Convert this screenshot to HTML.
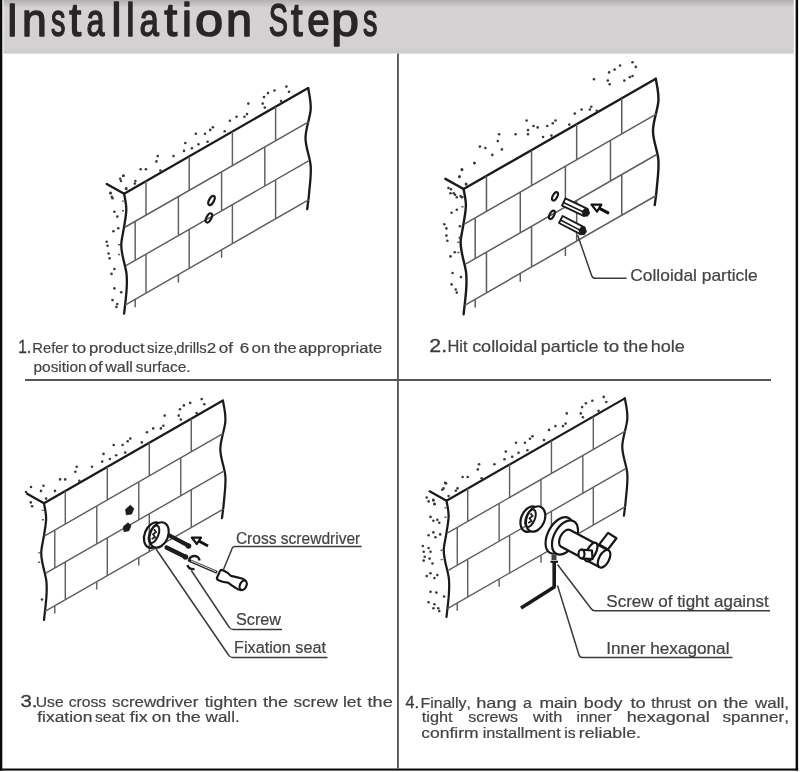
<!DOCTYPE html>
<html><head><meta charset="utf-8"><style>
html,body{margin:0;padding:0;background:#fff;}
body{width:800px;height:772px;overflow:hidden;}
svg{display:block;will-change:transform;}
text{font-family:"Liberation Sans",sans-serif;fill:#434343;font-kerning:none;}
.title{fill:#2a2526;stroke:#2a2526;stroke-width:1.5;stroke-linejoin:round;}
.num{fill:#3a3a3a;}
.cap{stroke:#434343;stroke-width:0.2;}
.num{stroke:#3a3a3a;stroke-width:0.3;}
.edge{fill:none;stroke:#1a1a1a;stroke-width:2.3;stroke-linejoin:round;stroke-linecap:round;}
.mort{fill:none;stroke:#5e5e5e;stroke-width:1.45;}
.dots{fill:#3a3a3a;}
.hole{fill:none;stroke:#1a1a1a;stroke-width:2.2;}
.ol{fill:#fff;stroke:#1a1a1a;stroke-width:1.8;stroke-linejoin:round;}
.ol2{fill:none;stroke:#1a1a1a;stroke-width:1.6;}
.ol3{fill:none;stroke:#161616;stroke-width:2.2;}
.ol3w{fill:#fff;stroke:#161616;stroke-width:2.2;stroke-linejoin:round;}
.lead{fill:none;stroke:#3a3a3a;stroke-width:1.5;}
</style></head><body>
<svg width="800" height="772" viewBox="0 0 800 772">
<defs><linearGradient id="hg" x1="0" y1="0" x2="0" y2="1"><stop offset="0" stop-color="#b3b0b2"/><stop offset="0.12" stop-color="#cdcacc"/><stop offset="0.135" stop-color="#d6d2d4"/><stop offset="0.88" stop-color="#d4d1d3"/><stop offset="1" stop-color="#cdcacc"/></linearGradient></defs>
<rect x="3.5" y="0" width="790.3" height="53.6" fill="url(#hg)"/>
<text class="title" transform="translate(6.49,35.5) scale(0.899,1)" x="0" y="0" font-size="46.5">I</text>
<text class="title" transform="translate(22.10,35.5) scale(0.957,1)" x="0" y="0" font-size="46.5">n</text>
<text class="title" transform="translate(51.06,35.5) scale(0.620,1)" x="0" y="0" font-size="46.5">s</text>
<text class="title" transform="translate(69.30,35.5) scale(0.926,1)" x="0" y="0" font-size="46.5">t</text>
<text class="title" transform="translate(86.48,35.5) scale(0.695,1)" x="0" y="0" font-size="46.5">a</text>
<text class="title" transform="translate(111.56,35.5) scale(0.954,1)" x="0" y="0" font-size="46.5">l</text>
<text class="title" transform="translate(126.32,35.5) scale(0.807,1)" x="0" y="0" font-size="46.5">l</text>
<text class="title" transform="translate(139.57,35.5) scale(0.749,1)" x="0" y="0" font-size="46.5">a</text>
<text class="title" transform="translate(164.34,35.5) scale(1.002,1)" x="0" y="0" font-size="46.5">t</text>
<text class="title" transform="translate(182.08,35.5) scale(0.954,1)" x="0" y="0" font-size="46.5">i</text>
<text class="title" transform="translate(194.92,35.5) scale(1.089,1)" x="0" y="0" font-size="46.5">o</text>
<text class="title" transform="translate(225.94,35.5) scale(1.007,1)" x="0" y="0" font-size="46.5">n</text>
<text class="title" transform="translate(268.74,35.5) scale(0.620,1)" x="0" y="0" font-size="46.5">S</text>
<text class="title" transform="translate(291.12,35.5) scale(0.901,1)" x="0" y="0" font-size="46.5">t</text>
<text class="title" transform="translate(307.34,35.5) scale(0.866,1)" x="0" y="0" font-size="46.5">e</text>
<text class="title" transform="translate(331.34,35.5) scale(1.071,1)" x="0" y="0" font-size="46.5">p</text>
<text class="title" transform="translate(363.11,35.5) scale(0.620,1)" x="0" y="0" font-size="46.5">s</text>
<rect x="0" y="0" width="2.3" height="770.6" fill="#0c0c0c"/>
<rect x="795.6" y="0" width="2.5" height="770.6" fill="#0c0c0c"/>
<rect x="0" y="768.5" width="798.1" height="2.1" fill="#0c0c0c"/>
<rect x="397" y="53.6" width="1.9" height="715" fill="#5a5a5a"/>
<rect x="25" y="379" width="746" height="2" fill="#555"/>
<g transform="translate(124.1,193.7) scale(1.000)"><path class="edge" d="M-17.4,-9.7 L0,0 L184.1,-105.6"/>
<path class="edge" d="M0.00,0.00 C0.37,2.58 2.20,10.00 2.20,15.50 C2.20,21.00 0.83,27.25 0.00,33.00 C-0.83,38.75 -2.55,45.17 -2.80,50.00 C-3.05,54.83 -2.37,57.00 -1.50,62.00 C-0.63,67.00 1.73,74.33 2.40,80.00 C3.07,85.67 2.90,89.33 2.50,96.00 C2.10,102.67 0.42,116.00 0.00,120.00"/>
<path class="edge" d="M184.10,-105.60 C184.52,-102.10 187.05,-92.93 186.60,-84.60 C186.15,-76.27 181.40,-65.10 181.40,-55.60 C181.40,-46.10 185.98,-36.60 186.60,-27.60 C187.22,-18.60 185.68,-8.77 185.10,-1.60 C184.52,5.57 183.43,12.57 183.10,15.40"/>
<path class="mort" d="M0.3,33.8 L184.5,-71.8 M1.8,72.0 L184.5,-32.8 M1.0,111.4 L184.5,6.2 M21.9,-12.6 L21.9,21.4 M21.9,60.4 L21.9,99.4 M65.1,-37.3 L65.1,-3.3 M65.1,35.7 L65.1,74.7 M108.3,-62.1 L108.3,-28.1 M108.3,10.9 L108.3,49.9 M151.5,-86.9 L151.5,-52.9 M151.5,-13.9 L151.5,25.1 M11.1,27.6 L11.1,66.6 M54.3,2.9 L54.3,41.9 M97.5,-21.9 L97.5,17.1 M140.7,-46.7 L140.7,-7.7 M11.1,105.6 L11.1,113.6 M54.3,80.9 L54.3,88.9 M97.5,56.1 L97.5,64.1"/>
<path class="mort" d="M0.0,7.4 h-2.2 M0.0,17.1 h-2.2 M-3.9,51.1 h-2.2 M-3.9,60.8 h-2.2"/></g>
<g transform="translate(463.6,189.0) scale(1.044)"><path class="edge" d="M-17.4,-9.7 L0,0 L184.1,-105.6"/>
<path class="edge" d="M0.00,0.00 C0.37,2.58 2.20,10.00 2.20,15.50 C2.20,21.00 0.83,27.25 0.00,33.00 C-0.83,38.75 -2.55,45.17 -2.80,50.00 C-3.05,54.83 -2.37,57.00 -1.50,62.00 C-0.63,67.00 1.73,74.33 2.40,80.00 C3.07,85.67 2.90,89.33 2.50,96.00 C2.10,102.67 0.42,116.00 0.00,120.00"/>
<path class="edge" d="M184.10,-105.60 C184.52,-102.10 187.05,-92.93 186.60,-84.60 C186.15,-76.27 181.40,-65.10 181.40,-55.60 C181.40,-46.10 185.98,-36.60 186.60,-27.60 C187.22,-18.60 185.68,-8.77 185.10,-1.60 C184.52,5.57 183.43,12.57 183.10,15.40"/>
<path class="mort" d="M0.3,33.8 L184.5,-71.8 M1.8,72.0 L184.5,-32.8 M1.0,111.4 L184.5,6.2 M21.9,-12.6 L21.9,21.4 M21.9,60.4 L21.9,99.4 M65.1,-37.3 L65.1,-3.3 M65.1,35.7 L65.1,74.7 M108.3,-62.1 L108.3,-28.1 M108.3,10.9 L108.3,49.9 M151.5,-86.9 L151.5,-52.9 M151.5,-13.9 L151.5,25.1 M11.1,27.6 L11.1,66.6 M54.3,2.9 L54.3,41.9 M97.5,-21.9 L97.5,17.1 M140.7,-46.7 L140.7,-7.7 M11.1,105.6 L11.1,113.6 M54.3,80.9 L54.3,88.9 M97.5,56.1 L97.5,64.1"/>
<path class="mort" d="M0.0,7.4 h-2.2 M0.0,17.1 h-2.2 M-3.9,51.1 h-2.2 M-3.9,60.8 h-2.2"/></g>
<g transform="translate(44.0,503.2) scale(0.972)"><path class="edge" d="M-17.4,-9.7 L0,0 L184.1,-105.6"/>
<path class="edge" d="M0.00,0.00 C0.37,2.58 2.20,10.00 2.20,15.50 C2.20,21.00 0.83,27.25 0.00,33.00 C-0.83,38.75 -2.55,45.17 -2.80,50.00 C-3.05,54.83 -2.37,57.00 -1.50,62.00 C-0.63,67.00 1.73,74.33 2.40,80.00 C3.07,85.67 2.90,89.33 2.50,96.00 C2.10,102.67 0.42,116.00 0.00,120.00"/>
<path class="edge" d="M184.10,-105.60 C184.52,-102.10 187.05,-92.93 186.60,-84.60 C186.15,-76.27 181.40,-65.10 181.40,-55.60 C181.40,-46.10 185.98,-36.60 186.60,-27.60 C187.22,-18.60 185.68,-8.77 185.10,-1.60 C184.52,5.57 183.43,12.57 183.10,15.40"/>
<path class="mort" d="M0.3,33.8 L184.5,-71.8 M1.8,72.0 L184.5,-32.8 M1.0,111.4 L184.5,6.2 M21.9,-12.6 L21.9,21.4 M21.9,60.4 L21.9,99.4 M65.1,-37.3 L65.1,-3.3 M65.1,35.7 L65.1,74.7 M108.3,-62.1 L108.3,-28.1 M108.3,10.9 L108.3,49.9 M151.5,-86.9 L151.5,-52.9 M151.5,-13.9 L151.5,25.1 M11.1,27.6 L11.1,66.6 M54.3,2.9 L54.3,41.9 M97.5,-21.9 L97.5,17.1 M140.7,-46.7 L140.7,-7.7 M11.1,105.6 L11.1,113.6 M54.3,80.9 L54.3,88.9 M97.5,56.1 L97.5,64.1"/>
<path class="mort" d="M0.0,7.4 h-2.2 M0.0,17.1 h-2.2 M-3.9,51.1 h-2.2 M-3.9,60.8 h-2.2"/></g>
<g transform="translate(446.5,500.7) scale(0.969)"><path class="edge" d="M-17.4,-9.7 L0,0 L184.1,-105.6"/>
<path class="edge" d="M0.00,0.00 C0.37,2.58 2.20,10.00 2.20,15.50 C2.20,21.00 0.83,27.25 0.00,33.00 C-0.83,38.75 -2.55,45.17 -2.80,50.00 C-3.05,54.83 -2.37,57.00 -1.50,62.00 C-0.63,67.00 1.73,74.33 2.40,80.00 C3.07,85.67 2.90,89.33 2.50,96.00 C2.10,102.67 0.42,116.00 0.00,120.00"/>
<path class="edge" d="M184.10,-105.60 C184.52,-102.10 187.05,-92.93 186.60,-84.60 C186.15,-76.27 181.40,-65.10 181.40,-55.60 C181.40,-46.10 185.98,-36.60 186.60,-27.60 C187.22,-18.60 185.68,-8.77 185.10,-1.60 C184.52,5.57 183.43,12.57 183.10,15.40"/>
<path class="mort" d="M0.3,33.8 L184.5,-71.8 M1.8,72.0 L184.5,-32.8 M1.0,111.4 L184.5,6.2 M21.9,-12.6 L21.9,21.4 M21.9,60.4 L21.9,99.4 M65.1,-37.3 L65.1,-3.3 M65.1,35.7 L65.1,74.7 M108.3,-62.1 L108.3,-28.1 M108.3,10.9 L108.3,49.9 M151.5,-86.9 L151.5,-52.9 M151.5,-13.9 L151.5,25.1 M11.1,27.6 L11.1,66.6 M54.3,2.9 L54.3,41.9 M97.5,-21.9 L97.5,17.1 M140.7,-46.7 L140.7,-7.7 M11.1,105.6 L11.1,113.6 M54.3,80.9 L54.3,88.9 M97.5,56.1 L97.5,64.1"/>
<path class="mort" d="M0.0,7.4 h-2.2 M0.0,17.1 h-2.2 M-3.9,51.1 h-2.2 M-3.9,60.8 h-2.2"/></g>
<g class="dots"><circle cx="286.4" cy="86.6" r="1.3"/><circle cx="289.0" cy="91.8" r="1.3"/><circle cx="274.5" cy="90.5" r="1.3"/><circle cx="268.0" cy="93.1" r="1.3"/><circle cx="264.0" cy="97.1" r="1.3"/><circle cx="262.7" cy="103.6" r="1.3"/><circle cx="264.8" cy="107.6" r="1.3"/><circle cx="281.1" cy="101.0" r="1.3"/><circle cx="248.3" cy="103.6" r="1.3"/><circle cx="247.0" cy="114.1" r="1.3"/><circle cx="244.4" cy="116.7" r="1.3"/><circle cx="236.5" cy="116.7" r="1.3"/><circle cx="229.9" cy="120.7" r="1.3"/><circle cx="224.7" cy="131.2" r="1.3"/><circle cx="212.9" cy="127.2" r="1.3"/><circle cx="210.2" cy="129.9" r="1.3"/><circle cx="205.0" cy="133.8" r="1.3"/><circle cx="207.6" cy="141.7" r="1.3"/><circle cx="198.4" cy="144.3" r="1.3"/><circle cx="195.8" cy="133.8" r="1.3"/><circle cx="191.9" cy="148.2" r="1.3"/><circle cx="185.3" cy="143.0" r="1.3"/><circle cx="184.0" cy="150.9" r="1.3"/><circle cx="173.5" cy="156.1" r="1.3"/><circle cx="160.4" cy="170.6" r="1.3"/><circle cx="156.4" cy="161.4" r="1.3"/><circle cx="157.7" cy="156.1" r="1.3"/><circle cx="145.9" cy="169.2" r="1.3"/><circle cx="140.7" cy="169.2" r="1.3"/><circle cx="135.4" cy="181.0" r="1.3"/><circle cx="123.6" cy="175.8" r="1.3"/><circle cx="121.0" cy="181.0" r="1.3"/><circle cx="126.2" cy="188.9" r="1.3"/><circle cx="110.5" cy="192.9" r="1.3"/><circle cx="111.8" cy="196.8" r="1.3"/><circle cx="120.2" cy="178.7" r="1.3"/><circle cx="123.2" cy="175.8" r="1.3"/><circle cx="134.8" cy="183.6" r="1.3"/><circle cx="126.1" cy="188.4" r="1.3"/><circle cx="110.5" cy="193.3" r="1.3"/><circle cx="112.5" cy="198.2" r="1.3"/><circle cx="114.4" cy="211.7" r="1.3"/><circle cx="117.3" cy="216.6" r="1.3"/><circle cx="113.4" cy="231.2" r="1.3"/><circle cx="118.3" cy="228.3" r="1.3"/><circle cx="106.7" cy="241.8" r="1.3"/><circle cx="107.6" cy="245.7" r="1.3"/><circle cx="108.6" cy="253.5" r="1.3"/><circle cx="109.6" cy="258.3" r="1.3"/><circle cx="114.4" cy="269.0" r="1.3"/><circle cx="111.5" cy="273.9" r="1.3"/><circle cx="114.4" cy="288.4" r="1.3"/><circle cx="121.2" cy="292.3" r="1.3"/><circle cx="112.5" cy="300.1" r="1.3"/><circle cx="117.3" cy="304.0" r="1.3"/><circle cx="116.4" cy="306.9" r="1.3"/></g>
<g class="dots"><circle cx="632.5" cy="62.2" r="1.3"/><circle cx="635.8" cy="66.9" r="1.3"/><circle cx="620.1" cy="65.5" r="1.3"/><circle cx="614.6" cy="69.6" r="1.3"/><circle cx="609.1" cy="72.4" r="1.3"/><circle cx="607.8" cy="80.6" r="1.3"/><circle cx="609.7" cy="84.2" r="1.3"/><circle cx="624.3" cy="80.6" r="1.3"/><circle cx="629.8" cy="77.1" r="1.3"/><circle cx="632.5" cy="76.0" r="1.3"/><circle cx="594.0" cy="79.3" r="1.3"/><circle cx="591.3" cy="106.8" r="1.3"/><circle cx="589.9" cy="109.5" r="1.3"/><circle cx="596.8" cy="110.9" r="1.3"/><circle cx="581.6" cy="109.5" r="1.3"/><circle cx="574.8" cy="113.6" r="1.3"/><circle cx="569.3" cy="124.6" r="1.3"/><circle cx="555.5" cy="120.5" r="1.3"/><circle cx="552.8" cy="123.3" r="1.3"/><circle cx="547.3" cy="126.0" r="1.3"/><circle cx="551.4" cy="135.6" r="1.3"/><circle cx="543.1" cy="137.0" r="1.3"/><circle cx="537.6" cy="127.4" r="1.3"/><circle cx="533.5" cy="126.0" r="1.3"/><circle cx="528.0" cy="130.1" r="1.3"/><circle cx="526.6" cy="120.5" r="1.3"/><circle cx="528.0" cy="134.3" r="1.3"/><circle cx="515.6" cy="134.3" r="1.3"/><circle cx="499.1" cy="134.3" r="1.3"/><circle cx="497.8" cy="141.1" r="1.3"/><circle cx="501.9" cy="149.4" r="1.3"/><circle cx="492.3" cy="154.9" r="1.3"/><circle cx="485.4" cy="148.0" r="1.3"/><circle cx="479.9" cy="146.6" r="1.3"/><circle cx="474.4" cy="163.1" r="1.3"/><circle cx="462.0" cy="170.0" r="1.3"/><circle cx="459.3" cy="176.9" r="1.3"/><circle cx="466.1" cy="183.8" r="1.3"/><circle cx="451.0" cy="189.3" r="1.3"/><circle cx="455.1" cy="194.8" r="1.3"/><circle cx="460.6" cy="196.1" r="1.3"/><circle cx="474.4" cy="163.1" r="1.3"/><circle cx="461.9" cy="169.3" r="1.3"/><circle cx="459.5" cy="176.6" r="1.3"/><circle cx="466.1" cy="184.5" r="1.3"/><circle cx="448.5" cy="188.0" r="1.3"/><circle cx="450.5" cy="193.2" r="1.3"/><circle cx="453.7" cy="193.2" r="1.3"/><circle cx="456.8" cy="197.3" r="1.3"/><circle cx="461.9" cy="197.3" r="1.3"/><circle cx="451.6" cy="212.8" r="1.3"/><circle cx="456.8" cy="209.7" r="1.3"/><circle cx="444.3" cy="224.2" r="1.3"/><circle cx="446.4" cy="228.4" r="1.3"/><circle cx="459.9" cy="226.3" r="1.3"/><circle cx="446.4" cy="235.6" r="1.3"/><circle cx="447.4" cy="240.8" r="1.3"/><circle cx="459.9" cy="237.7" r="1.3"/><circle cx="450.5" cy="256.4" r="1.3"/><circle cx="454.7" cy="252.2" r="1.3"/><circle cx="452.6" cy="273.0" r="1.3"/><circle cx="460.9" cy="277.1" r="1.3"/><circle cx="451.6" cy="284.4" r="1.3"/><circle cx="455.7" cy="289.5" r="1.3"/><circle cx="456.8" cy="292.6" r="1.3"/></g>
<g class="dots"><circle cx="201.7" cy="399.1" r="1.3"/><circle cx="204.3" cy="404.2" r="1.3"/><circle cx="190.2" cy="402.9" r="1.3"/><circle cx="183.9" cy="405.4" r="1.3"/><circle cx="180.0" cy="409.3" r="1.3"/><circle cx="178.7" cy="415.6" r="1.3"/><circle cx="180.8" cy="419.5" r="1.3"/><circle cx="196.6" cy="413.1" r="1.3"/><circle cx="164.7" cy="415.6" r="1.3"/><circle cx="163.4" cy="425.8" r="1.3"/><circle cx="160.9" cy="428.4" r="1.3"/><circle cx="153.2" cy="428.4" r="1.3"/><circle cx="146.9" cy="432.2" r="1.3"/><circle cx="141.8" cy="442.4" r="1.3"/><circle cx="130.3" cy="438.6" r="1.3"/><circle cx="127.7" cy="441.2" r="1.3"/><circle cx="122.6" cy="445.0" r="1.3"/><circle cx="125.2" cy="452.6" r="1.3"/><circle cx="116.2" cy="455.2" r="1.3"/><circle cx="113.7" cy="445.0" r="1.3"/><circle cx="109.9" cy="459.0" r="1.3"/><circle cx="103.5" cy="453.9" r="1.3"/><circle cx="102.2" cy="461.6" r="1.3"/><circle cx="92.0" cy="466.7" r="1.3"/><circle cx="79.3" cy="480.7" r="1.3"/><circle cx="75.4" cy="471.8" r="1.3"/><circle cx="76.7" cy="466.7" r="1.3"/><circle cx="65.2" cy="479.4" r="1.3"/><circle cx="60.1" cy="479.4" r="1.3"/><circle cx="55.0" cy="490.9" r="1.3"/><circle cx="43.5" cy="485.8" r="1.3"/><circle cx="41.0" cy="490.9" r="1.3"/><circle cx="46.1" cy="498.6" r="1.3"/><circle cx="30.8" cy="502.4" r="1.3"/><circle cx="32.1" cy="506.2" r="1.3"/><circle cx="42.0" cy="599.5" r="1.3"/><circle cx="26.0" cy="492.0" r="1.3"/><circle cx="31.0" cy="487.0" r="1.3"/></g>
<g class="dots"><circle cx="603.7" cy="396.9" r="1.3"/><circle cx="606.3" cy="402.0" r="1.3"/><circle cx="592.3" cy="400.7" r="1.3"/><circle cx="585.9" cy="403.2" r="1.3"/><circle cx="582.1" cy="407.1" r="1.3"/><circle cx="580.8" cy="413.4" r="1.3"/><circle cx="582.9" cy="417.2" r="1.3"/><circle cx="598.6" cy="410.9" r="1.3"/><circle cx="566.8" cy="413.4" r="1.3"/><circle cx="565.6" cy="423.6" r="1.3"/><circle cx="563.0" cy="426.1" r="1.3"/><circle cx="555.4" cy="426.1" r="1.3"/><circle cx="549.0" cy="429.9" r="1.3"/><circle cx="544.0" cy="440.1" r="1.3"/><circle cx="532.5" cy="436.3" r="1.3"/><circle cx="530.0" cy="438.8" r="1.3"/><circle cx="524.9" cy="442.7" r="1.3"/><circle cx="527.4" cy="450.3" r="1.3"/><circle cx="518.5" cy="452.8" r="1.3"/><circle cx="516.0" cy="442.7" r="1.3"/><circle cx="512.2" cy="456.7" r="1.3"/><circle cx="505.8" cy="451.6" r="1.3"/><circle cx="504.5" cy="459.2" r="1.3"/><circle cx="494.4" cy="464.3" r="1.3"/><circle cx="481.6" cy="478.3" r="1.3"/><circle cx="477.8" cy="469.4" r="1.3"/><circle cx="479.1" cy="464.3" r="1.3"/><circle cx="467.7" cy="477.0" r="1.3"/><circle cx="462.6" cy="477.0" r="1.3"/><circle cx="457.5" cy="488.4" r="1.3"/><circle cx="446.0" cy="483.4" r="1.3"/><circle cx="443.5" cy="488.4" r="1.3"/><circle cx="448.6" cy="496.1" r="1.3"/><circle cx="433.3" cy="499.9" r="1.3"/><circle cx="434.6" cy="503.7" r="1.3"/><circle cx="445.1" cy="482.9" r="1.3"/><circle cx="442.2" cy="489.7" r="1.3"/><circle cx="455.8" cy="490.7" r="1.3"/><circle cx="426.7" cy="497.5" r="1.3"/><circle cx="428.6" cy="501.4" r="1.3"/><circle cx="433.4" cy="500.4" r="1.3"/><circle cx="434.4" cy="504.3" r="1.3"/><circle cx="430.5" cy="516.9" r="1.3"/><circle cx="433.4" cy="520.8" r="1.3"/><circle cx="437.3" cy="519.8" r="1.3"/><circle cx="439.3" cy="522.7" r="1.3"/><circle cx="428.6" cy="535.3" r="1.3"/><circle cx="433.4" cy="532.4" r="1.3"/><circle cx="435.4" cy="537.3" r="1.3"/><circle cx="440.2" cy="534.4" r="1.3"/><circle cx="422.8" cy="546.0" r="1.3"/><circle cx="428.6" cy="548.0" r="1.3"/><circle cx="423.7" cy="551.8" r="1.3"/><circle cx="430.5" cy="551.8" r="1.3"/><circle cx="424.7" cy="556.7" r="1.3"/><circle cx="429.6" cy="558.6" r="1.3"/><circle cx="423.7" cy="560.6" r="1.3"/><circle cx="432.5" cy="563.5" r="1.3"/><circle cx="426.7" cy="576.1" r="1.3"/><circle cx="430.5" cy="573.2" r="1.3"/><circle cx="434.4" cy="578.1" r="1.3"/><circle cx="437.3" cy="575.1" r="1.3"/><circle cx="430.5" cy="591.7" r="1.3"/><circle cx="436.4" cy="592.6" r="1.3"/><circle cx="444.1" cy="596.5" r="1.3"/><circle cx="428.6" cy="602.3" r="1.3"/><circle cx="434.4" cy="604.3" r="1.3"/><circle cx="433.4" cy="608.2" r="1.3"/><circle cx="438.3" cy="608.2" r="1.3"/><circle cx="439.3" cy="611.1" r="1.3"/></g>
<ellipse class="hole" cx="211.5" cy="200.5" rx="5" ry="2.4" transform="rotate(-62 211.5 200.5)"/>
<ellipse class="hole" cx="208.9" cy="217.9" rx="5" ry="2.4" transform="rotate(-62 208.9 217.9)"/>
<ellipse class="hole" cx="555.0" cy="196.3" rx="4.6" ry="2.2" transform="rotate(-62 555.0 196.3)"/>
<ellipse class="hole" cx="551.9" cy="214.8" rx="4.6" ry="2.2" transform="rotate(-62 551.9 214.8)"/>
<path class="ol" d="M565.4,198.4 L587.6,208.9 L584.2,216.1 L562.0,205.6 Z"/><path class="ol2" d="M563.4,202.5 L585.6,213.0"/><path fill="#1a1a1a" d="M590.1,213.3 L587.4,216.8 L583.1,216.0 L581.7,211.7 L584.4,208.2 L588.7,209.0 Z"/>
<path class="ol" d="M562.6,216.0 L584.5,227.4 L580.9,234.4 L559.0,223.0 Z"/><path class="ol2" d="M560.5,220.0 L582.4,231.4"/><path fill="#1a1a1a" d="M586.9,231.7 L584.2,235.2 L579.9,234.4 L578.5,230.1 L581.2,226.6 L585.5,227.4 Z"/>
<path d="M609,213.4 L597.5,207.3" stroke="#111" stroke-width="3" fill="none"/>
<path d="M591.5,204.6 L601.3,204.6 L597,211.6 Z" fill="#fff" stroke="#111" stroke-width="2.2" stroke-linejoin="round"/>
<path class="lead" d="M577.6,235 L591.6,275.4 Q592.6,278.3 595.4,278.3 L626.6,278.3"/>
<text class="cap" x="630.3" y="280.9" font-size="16.2" textLength="127.5" lengthAdjust="spacingAndGlyphs">Colloidal particle</text>
<text class="num" x="18.3" y="353.4" font-size="18.8" textLength="13.0" lengthAdjust="spacingAndGlyphs">1.</text>
<text class="cap" transform="translate(32.23,353.3) scale(0.9546,1)" x="0" y="0" font-size="15.5">Refer</text><text class="cap" transform="translate(72.03,353.3) scale(1.0983,1)" x="0" y="0" font-size="15.5">to</text><text class="cap" transform="translate(89.02,353.3) scale(1.0774,1)" x="0" y="0" font-size="15.5">product</text><text class="cap" transform="translate(147.00,353.3) scale(0.9546,1)" x="0" y="0" font-size="15.5">size,</text><text class="cap" transform="translate(176.35,353.3) scale(0.9546,1)" x="0" y="0" font-size="15.5">drills</text><text class="cap" transform="translate(206.87,353.3) scale(1.0983,1)" x="0" y="0" font-size="15.5">2</text><text class="cap" transform="translate(218.68,353.3) scale(1.0983,1)" x="0" y="0" font-size="15.5">of</text><text class="cap" transform="translate(239.66,353.3) scale(1.0983,1)" x="0" y="0" font-size="15.5">6</text><text class="cap" transform="translate(251.43,353.3) scale(1.0983,1)" x="0" y="0" font-size="15.5">on</text><text class="cap" transform="translate(273.65,353.3) scale(1.0667,1)" x="0" y="0" font-size="15.5">the</text><text class="cap" transform="translate(298.50,353.3) scale(1.0692,1)" x="0" y="0" font-size="15.5">appropriate</text>
<text class="cap" transform="translate(33.51,371.7) scale(0.9957,1)" x="0" y="0" font-size="15.5">position</text><text class="cap" transform="translate(88.63,371.7) scale(1.0843,1)" x="0" y="0" font-size="15.5">of</text><text class="cap" transform="translate(105.22,371.7) scale(1.0316,1)" x="0" y="0" font-size="15.5">wall</text><text class="cap" transform="translate(135.77,371.7) scale(0.9927,1)" x="0" y="0" font-size="15.5">surface.</text>
<text class="num" x="429.3" y="352.3" font-size="18.8" textLength="17.8" lengthAdjust="spacingAndGlyphs">2.</text>
<text class="cap" transform="translate(447.40,352.0) scale(1.0490,1)" x="0" y="0" font-size="15.7">Hit</text><text class="cap" transform="translate(472.13,352.0) scale(1.1470,1)" x="0" y="0" font-size="15.7">colloidal</text><text class="cap" transform="translate(540.75,352.0) scale(1.1411,1)" x="0" y="0" font-size="15.7">particle</text><text class="cap" transform="translate(603.42,352.0) scale(1.1971,1)" x="0" y="0" font-size="15.7">to</text><text class="cap" transform="translate(623.23,352.0) scale(1.1393,1)" x="0" y="0" font-size="15.7">the</text><text class="cap" transform="translate(650.75,352.0) scale(1.1507,1)" x="0" y="0" font-size="15.7">hole</text>
<g transform="translate(156.5,535.0) rotate(22)"><ellipse class="ol3" cx="-2.6" cy="1.2" rx="9" ry="13.2"/><ellipse class="ol3w" cx="2.4" cy="-1" rx="9" ry="13.2"/><ellipse class="ol2" cx="-2.6" cy="0.3" rx="4.4" ry="9.2" style="stroke-width:2"/><path d="M-4.5,-4.5 L-1.5,-2.5 L-3.5,0.5 L-0.5,2.5 L-3,5.5" stroke="#222" stroke-width="1.8" fill="none"/></g>
<path d="M169.5,535.5 L187.5,545.2" stroke="#1c1c1c" stroke-width="4.2" stroke-linecap="round"/>
<path d="M166.5,547.5 L184.8,556.5" stroke="#1c1c1c" stroke-width="4.2" stroke-linecap="round"/>
<circle cx="188.5" cy="546" r="2.8" fill="#1c1c1c"/>
<circle cx="185.5" cy="557" r="2.8" fill="#1c1c1c"/>
<path d="M208,546 L197,540" stroke="#111" stroke-width="2.8" fill="none"/>
<path d="M191.8,537.5 L201,537.7 L196.8,544 Z" fill="#fff" stroke="#111" stroke-width="2.2" stroke-linejoin="round"/>
<path fill="#1c1c1c" stroke="#1c1c1c" stroke-width="0.8" stroke-linejoin="round" d="M130.3,505.2 L133.8,508.6 L131.6,514 L126.3,514.8 L125.6,509.5 Z"/>
<path fill="#1c1c1c" stroke="#1c1c1c" stroke-width="0.8" stroke-linejoin="round" d="M128,522.8 L131,525.5 L128.9,530.8 L124,531.6 L123.3,526.8 Z"/>
<path d="M189.6,560.6 L217,572.4" stroke="#222" stroke-width="3" fill="none"/>
<path d="M191,560.9 L216,571.7" stroke="#fff" stroke-width="0.9" fill="none"/>
<g transform="translate(218.5,574.3) rotate(24)"><path class="ol3w" d="M0,-3.5 Q0,-5.5 3,-5.5 Q8,-5.5 12,-3.6 Q17,-4.8 24,-5.8 Q29,-6 30,0 Q29,6 24,5.8 Q17,5 12,3.8 Q8,5.5 3,5.5 Q0,5.5 0,3.5 Z"/><ellipse class="ol3w" cx="27" cy="0" rx="3.2" ry="5"/></g>
<path d="M199.5,560.5 A5.2,5 0 1 0 189,561.5" stroke="#1a1a1a" stroke-width="2.5" fill="none"/>
<path d="M187.5,565 Q188.5,569.5 194.5,569" stroke="#1a1a1a" stroke-width="2.3" fill="none"/>
<path class="lead" d="M223.6,569.2 L232.3,548 Q233,546.6 235,546.6 L361.6,546.6"/>
<path class="lead" d="M191.3,570.5 L229,627 Q230.5,629.6 233,629.6 L282,629.6"/>
<path class="lead" d="M156,549 L228.5,655 Q230,657.6 232.5,657.6 L327.5,657.6"/>
<text class="cap" x="235.9" y="543.7" font-size="16.0" textLength="124.4" lengthAdjust="spacingAndGlyphs">Cross screwdriver</text>
<text class="cap" x="236.0" y="625.0" font-size="16.0" textLength="45.0" lengthAdjust="spacingAndGlyphs">Screw</text>
<text class="cap" x="234.0" y="653.2" font-size="16.0" textLength="92.0" lengthAdjust="spacingAndGlyphs">Fixation seat</text>
<g transform="translate(533.0,519.0) rotate(22)"><ellipse class="ol3" cx="-2.6" cy="1.2" rx="9" ry="13.2"/><ellipse class="ol3w" cx="2.4" cy="-1" rx="9" ry="13.2"/><ellipse class="ol2" cx="-2.6" cy="0.3" rx="4.4" ry="9.2" style="stroke-width:2"/><path d="M-4.5,-4.5 L-1.5,-2.5 L-3.5,0.5 L-0.5,2.5 L-3,5.5" stroke="#222" stroke-width="1.8" fill="none"/></g>
<g transform="translate(563,537) rotate(28)"><ellipse class="ol3w" cx="-4" cy="0.3" rx="11.5" ry="19.8"/><ellipse class="ol3w" cx="2" cy="-0.5" rx="11" ry="18.5"/><path class="ol3w" d="M46,-9.5 L3,-9.5 A5.5,9.5 0 0 0 3,9.5 L46,9.5"/><ellipse class="ol3w" cx="32" cy="0" rx="4.5" ry="10.3"/><path class="ol3w" d="M35.5,-10.5 L37.8,-24.8 L47.8,-24 L45.5,-10 Z"/><ellipse class="ol3w" cx="46.5" cy="0" rx="5" ry="9.6"/></g>
<path class="ol3w" d="M581.5,549.7 L592,550.5 L592.5,559.2 L581.5,558.3 Z"/>
<ellipse class="ol3w" cx="581.5" cy="554" rx="3" ry="4.4"/>
<path d="M554.2,562 L554.2,587 L521,608" stroke="#1a1a1a" stroke-width="3.6" fill="none" stroke-linejoin="round"/>
<path d="M550.5,561.8 L558,561.8" stroke="#1a1a1a" stroke-width="2.2"/>
<path d="M551.5,555 L556.5,555 L556.5,560 L551.5,560 Z" fill="#444"/>
<path class="lead" d="M557.5,564.5 L591,608.5 Q592.5,610.8 595,610.8 L770,610.8"/>
<path class="lead" d="M557.5,585.5 L579,655 Q579.8,657.5 582.5,657.5 L732.5,657.5"/>
<text class="cap" x="606.3" y="607.0" font-size="16.0" textLength="162.5" lengthAdjust="spacingAndGlyphs">Screw of tight against</text>
<text class="cap" x="606.3" y="653.8" font-size="16.0" textLength="123.2" lengthAdjust="spacingAndGlyphs">Inner hexagonal</text>
<text class="num" x="20.4" y="707.2" font-size="17.0" textLength="17.0" lengthAdjust="spacingAndGlyphs">3.</text>
<text class="cap" transform="translate(35.76,707.1) scale(1.0344,1)" x="0" y="0" font-size="15.2">Use</text><text class="cap" transform="translate(68.67,707.1) scale(1.0344,1)" x="0" y="0" font-size="15.2">cross</text><text class="cap" transform="translate(112.03,707.1) scale(1.1113,1)" x="0" y="0" font-size="15.2">screwdriver</text><text class="cap" transform="translate(204.73,707.1) scale(1.1538,1)" x="0" y="0" font-size="15.2">tighten</text><text class="cap" transform="translate(262.94,707.1) scale(1.1901,1)" x="0" y="0" font-size="15.2">the</text><text class="cap" transform="translate(293.43,707.1) scale(1.1220,1)" x="0" y="0" font-size="15.2">screw</text><text class="cap" transform="translate(342.92,707.1) scale(1.1530,1)" x="0" y="0" font-size="15.2">let</text><text class="cap" transform="translate(367.59,707.1) scale(1.1901,1)" x="0" y="0" font-size="15.2">the</text>
<text class="cap" transform="translate(37.25,722.4) scale(1.1446,1)" x="0" y="0" font-size="15.2">fixation</text><text class="cap" transform="translate(94.92,722.4) scale(1.0382,1)" x="0" y="0" font-size="15.2">seat</text><text class="cap" transform="translate(129.75,722.4) scale(1.1807,1)" x="0" y="0" font-size="15.2">fix</text><text class="cap" transform="translate(151.77,722.4) scale(1.1452,1)" x="0" y="0" font-size="15.2">on</text><text class="cap" transform="translate(175.98,722.4) scale(1.1743,1)" x="0" y="0" font-size="15.2">the</text><text class="cap" transform="translate(205.62,722.4) scale(1.1191,1)" x="0" y="0" font-size="15.2">wall.</text>
<text class="num" x="405.5" y="707.8" font-size="16.5" textLength="13.5" lengthAdjust="spacingAndGlyphs">4.</text>
<text class="cap" transform="translate(420.61,707.6) scale(1.0447,1)" x="0" y="0" font-size="15.2">Finally,</text><text class="cap" transform="translate(476.24,707.6) scale(1.1988,1)" x="0" y="0" font-size="15.2">hang</text><text class="cap" transform="translate(523.07,707.6) scale(1.0447,1)" x="0" y="0" font-size="15.2">a</text><text class="cap" transform="translate(539.44,707.6) scale(1.1519,1)" x="0" y="0" font-size="15.2">main</text><text class="cap" transform="translate(583.85,707.6) scale(1.1737,1)" x="0" y="0" font-size="15.2">body</text><text class="cap" transform="translate(630.43,707.6) scale(1.2020,1)" x="0" y="0" font-size="15.2">to</text><text class="cap" transform="translate(651.33,707.6) scale(1.0447,1)" x="0" y="0" font-size="15.2">thrust</text><text class="cap" transform="translate(697.24,707.6) scale(1.1942,1)" x="0" y="0" font-size="15.2">on</text><text class="cap" transform="translate(723.48,707.6) scale(1.1743,1)" x="0" y="0" font-size="15.2">the</text><text class="cap" transform="translate(755.02,707.6) scale(1.1182,1)" x="0" y="0" font-size="15.2">wall,</text>
<text class="cap" transform="translate(421.75,722.4) scale(1.0744,1)" x="0" y="0" font-size="15.2">tight</text><text class="cap" transform="translate(468.30,722.4) scale(1.0525,1)" x="0" y="0" font-size="15.2">screws</text><text class="cap" transform="translate(533.02,722.4) scale(1.0838,1)" x="0" y="0" font-size="15.2">with</text><text class="cap" transform="translate(576.45,722.4) scale(1.0375,1)" x="0" y="0" font-size="15.2">inner</text><text class="cap" transform="translate(626.86,722.4) scale(1.1843,1)" x="0" y="0" font-size="15.2">hexagonal</text><text class="cap" transform="translate(722.52,722.4) scale(1.1244,1)" x="0" y="0" font-size="15.2">spanner,</text>
<text class="cap" transform="translate(421.26,737.9) scale(1.1519,1)" x="0" y="0" font-size="15.2">confirm</text><text class="cap" transform="translate(482.66,737.9) scale(1.0745,1)" x="0" y="0" font-size="15.2">installment</text><text class="cap" transform="translate(564.28,737.9) scale(1.0344,1)" x="0" y="0" font-size="15.2">is</text><text class="cap" transform="translate(578.82,737.9) scale(1.1685,1)" x="0" y="0" font-size="15.2">reliable.</text>
</svg>
</body></html>
